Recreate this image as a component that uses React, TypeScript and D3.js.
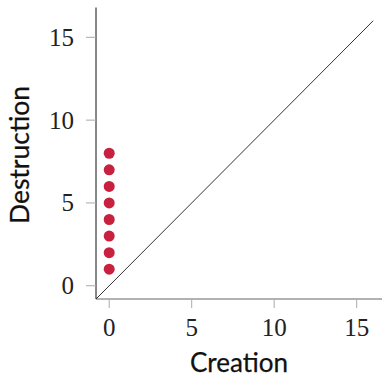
import React from "react";
import * as d3 from "d3";

const creation = [0, 0, 0, 0, 0, 0, 0, 0];
const destruction = [1, 2, 3, 4, 5, 6, 7, 8];
const xTicks = [0, 5, 10, 15];
const yTicks = [0, 5, 10, 15];
const domainMin = -0.8;
const domainMax = 16.8;
const diagonalEnd = 16;

const W = 382;
const H = 374;

export default function App() {
  const x = d3.scaleLinear().domain([domainMin, domainMax]).range([96, 386.4]);
  const y = d3.scaleLinear().domain([domainMin, domainMax]).range([299, 7.5]);
  const serif = "'Liberation Serif', 'DejaVu Serif', serif";
  const sans = "Lato, 'Open Sans', sans-serif";
  return (
    <svg width={W} height={H} style={{ position: "absolute", left: 0, top: 0, background: "#fff" }}>
      {/* diagonal */}
      <line x1={x(domainMin)} y1={y(domainMin)} x2={x(diagonalEnd)} y2={y(diagonalEnd)} stroke="#333" strokeWidth={1} />
      {/* x axis */}
      <line x1={x(domainMin)} x2={W} y1={y(domainMin)} y2={y(domainMin)} stroke="#666" strokeWidth={1.2} />
      {xTicks.map((t) => (
        <g key={"x" + t}>
          <line x1={x(t)} x2={x(t)} y1={y(domainMin)} y2={y(domainMin) + 9} stroke="#aaa" strokeWidth={1} />
          <text x={x(t)} y={y(domainMin) + 37} textAnchor="middle" fontFamily={serif} fontSize={25} fill="#222">
            {t}
          </text>
        </g>
      ))}
      {/* y axis */}
      <line x1={x(domainMin)} x2={x(domainMin)} y1={y(domainMax)} y2={y(domainMin)} stroke="#111" strokeWidth={1} />
      {yTicks.map((t) => (
        <g key={"y" + t}>
          <line x1={x(domainMin) - 10} x2={x(domainMin)} y1={y(t)} y2={y(t)} stroke="#aaa" strokeWidth={1} />
          <text x={x(domainMin) - 22} y={y(t) + 8.5} textAnchor="end" fontFamily={serif} fontSize={25} fill="#222">
            {t}
          </text>
        </g>
      ))}
      {/* points */}
      {creation.map((c, i) => (
        <circle key={i} cx={x(c)} cy={y(destruction[i])} r={5.5} fill="#c8203f" />
      ))}
      {/* labels */}
      <text x={239} y={372} textAnchor="middle" fontFamily={sans} fontSize={26} fontWeight={400} fill="#111" stroke="#111" strokeWidth={0.25}>
        Creation
      </text>
      <text
        transform={`translate(29, 155) rotate(-90)`}
        textAnchor="middle"
        fontFamily={sans}
        fontSize={26.5}
        fontWeight={400}
        fill="#111"
        stroke="#111"
        strokeWidth={0.25}
      >
        Destruction
      </text>
    </svg>
  );
}
